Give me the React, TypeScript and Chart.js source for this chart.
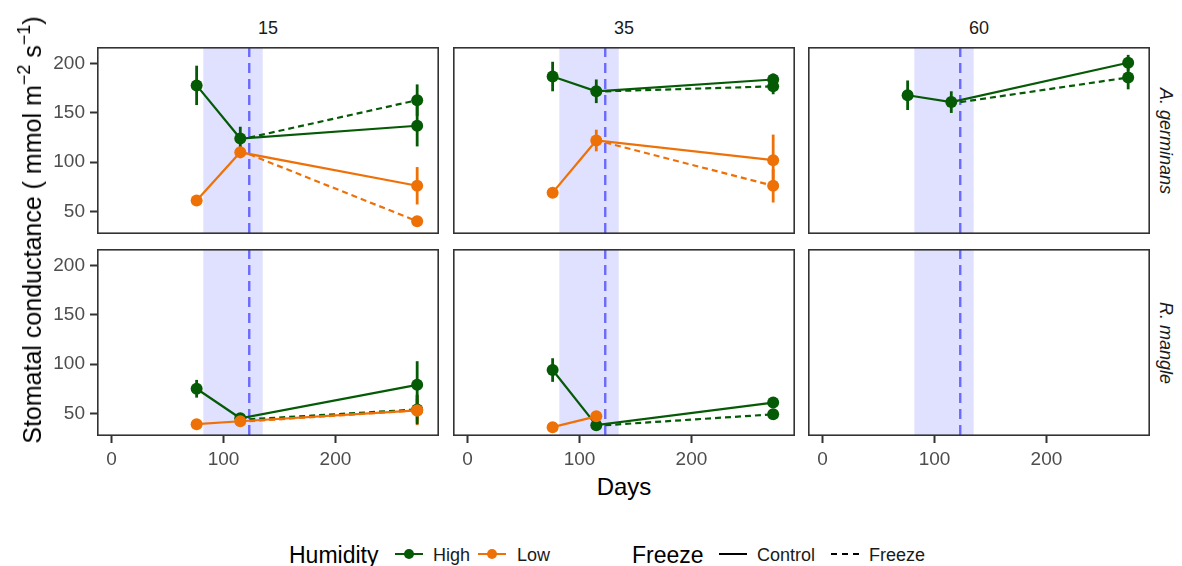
import React, { useEffect, useRef } from "react";
import { Chart, registerables } from "chart.js";

Chart.register(...registerables);

// ---------- data ----------
const DAYS = [76, 115, 273];
const FREEZE_DAYS = [123, 273];
const FREEZE_WINDOW = [82, 135];
const FREEZE_EVENT_DAY = 123;
const X_TICKS = [0, 100, 200];
const Y_TICKS = [50, 100, 150, 200];
const X_RANGE = [-13, 292.5];
const Y_RANGE = [27, 217];
const SALINITY = ["15", "35", "60"];
const SPECIES = ["A. germinans", "R. mangle"];
const HUMIDITY = ["High", "Low"];
const FREEZE = ["Control", "Freeze"];

// A. germinans, 15
const ag15HighCtrl = [178, 124, 137];
const ag15HighCtrlErr = [20, 12, 21];
const ag15HighFrz = [125, 163];
const ag15HighFrzErr = [0, 16];
const ag15LowCtrl = [61, 110, 76];
const ag15LowCtrlErr = [3, 6, 19];
const ag15LowFrz = [108, 40];
const ag15LowFrzErr = [0, 3];
// A. germinans, 35
const ag35HighCtrl = [187, 172, 184];
const ag35HighCtrlErr = [15, 12, 6];
const ag35HighFrz = [172, 177];
const ag35HighFrzErr = [0, 8];
const ag35LowCtrl = [69, 122, 102];
const ag35LowCtrlErr = [3, 11, 26];
const ag35LowFrz = [120, 76];
const ag35LowFrzErr = [0, 17];
// A. germinans, 60
const ag60HighCtrl = [168, 161, 201];
const ag60HighCtrlErr = [15, 11, 8];
const ag60HighFrz = [161, 186];
const ag60HighFrzErr = [0, 12];
// R. mangle, 15
const rm15HighCtrl = [75, 45, 79];
const rm15HighCtrlErr = [9, 4, 24];
const rm15HighFrz = [44, 54];
const rm15HighFrzErr = [0, 15];
const rm15LowCtrl = [39, 42, 53];
const rm15LowCtrlErr = [3, 3, 15];
const rm15LowFrz = [42, 53];
const rm15LowFrzErr = [0, 12];
// R. mangle, 35
const rm35HighCtrl = [94, 38, 61];
const rm35HighCtrlErr = [12, 3, 4];
const rm35HighFrz = [38, 49];
const rm35HighFrzErr = [0, 3];
const rm35LowCtrl = [36, 47, null];
const rm35LowCtrlErr = [2, 3, 0];

// ---------- styles ----------
const FONT = "'Liberation Sans', Arial, Helvetica, sans-serif";
const GREEN = "#055a06";
const ORANGE = "#ee7108";
const SHADE = "#e0e0ff";
const VLINE = "#6a6aff";
const FRAME = "#333333";
const TICK_TEXT = "#4d4d4d";

const PANEL_LEFT = [97, 453, 808];
const PANEL_TOP = [47, 249];
const PANEL_W = 342;
const PANEL_H = 187;
const YAXIS_W = 55;
const XAXIS_H = 35;

type S = { vals: (number | null)[]; errs: number[] } | null;
type PanelData = { highCtrl: S; highFrz: S; lowCtrl: S; lowFrz: S };

const PANELS: PanelData[][] = [
  [
    {
      highCtrl: { vals: ag15HighCtrl, errs: ag15HighCtrlErr },
      highFrz: { vals: ag15HighFrz, errs: ag15HighFrzErr },
      lowCtrl: { vals: ag15LowCtrl, errs: ag15LowCtrlErr },
      lowFrz: { vals: ag15LowFrz, errs: ag15LowFrzErr },
    },
    {
      highCtrl: { vals: ag35HighCtrl, errs: ag35HighCtrlErr },
      highFrz: { vals: ag35HighFrz, errs: ag35HighFrzErr },
      lowCtrl: { vals: ag35LowCtrl, errs: ag35LowCtrlErr },
      lowFrz: { vals: ag35LowFrz, errs: ag35LowFrzErr },
    },
    {
      highCtrl: { vals: ag60HighCtrl, errs: ag60HighCtrlErr },
      highFrz: { vals: ag60HighFrz, errs: ag60HighFrzErr },
      lowCtrl: null,
      lowFrz: null,
    },
  ],
  [
    {
      highCtrl: { vals: rm15HighCtrl, errs: rm15HighCtrlErr },
      highFrz: { vals: rm15HighFrz, errs: rm15HighFrzErr },
      lowCtrl: { vals: rm15LowCtrl, errs: rm15LowCtrlErr },
      lowFrz: { vals: rm15LowFrz, errs: rm15LowFrzErr },
    },
    {
      highCtrl: { vals: rm35HighCtrl, errs: rm35HighCtrlErr },
      highFrz: { vals: rm35HighFrz, errs: rm35HighFrzErr },
      lowCtrl: { vals: rm35LowCtrl, errs: rm35LowCtrlErr },
      lowFrz: null,
    },
    { highCtrl: null, highFrz: null, lowCtrl: null, lowFrz: null },
  ],
];

function makeDataset(s: S, days: number[], color: string, dashed: boolean, label: string) {
  if (!s) return null;
  const pts: { x: number; y: number; e: number }[] = [];
  s.vals.forEach((v, i) => {
    if (v !== null && v !== undefined) pts.push({ x: days[i], y: v, e: s.errs[i] || 0 });
  });
  return {
    label,
    data: pts.map((p) => ({ x: p.x, y: p.y })),
    errs: pts.map((p) => p.e),
    borderColor: color,
    backgroundColor: color,
    borderWidth: 2.2,
    borderDash: dashed ? [6, 4] : [],
    pointRadius: pts.map((p) => (dashed && p.x === FREEZE_EVENT_DAY ? 0 : 6)),
    pointHoverRadius: 0,
    pointBorderWidth: 0,
    pointBackgroundColor: color,
    showLine: true,
    tension: 0,
    fill: false,
  };
}

const decorPlugin = {
  id: "panelDecor",
  beforeDatasetsDraw(chart: any) {
    const { ctx, chartArea, scales } = chart;
    const xs = scales.x;
    const ys = scales.y;
    ctx.save();
    ctx.beginPath();
    ctx.rect(chartArea.left, chartArea.top, chartArea.width, chartArea.height);
    ctx.clip();
    const x0 = xs.getPixelForValue(FREEZE_WINDOW[0]);
    const x1 = xs.getPixelForValue(FREEZE_WINDOW[1]);
    ctx.fillStyle = SHADE;
    ctx.fillRect(x0, chartArea.top, x1 - x0, chartArea.height);
    const xv = xs.getPixelForValue(FREEZE_EVENT_DAY);
    ctx.strokeStyle = VLINE;
    ctx.lineWidth = 2.4;
    ctx.setLineDash([10, 6]);
    ctx.beginPath();
    ctx.moveTo(xv, chartArea.top);
    ctx.lineTo(xv, chartArea.bottom);
    ctx.stroke();
    ctx.setLineDash([]);
    // error bars
    chart.data.datasets.forEach((ds: any) => {
      ctx.strokeStyle = ds.borderColor;
      ctx.lineWidth = 2.8;
      ds.data.forEach((p: any, i: number) => {
        const e = ds.errs[i];
        if (!e) return;
        const px = xs.getPixelForValue(p.x);
        ctx.beginPath();
        ctx.moveTo(px, ys.getPixelForValue(p.y - e));
        ctx.lineTo(px, ys.getPixelForValue(p.y + e));
        ctx.stroke();
      });
    });
    ctx.restore();
  },
  afterDraw(chart: any) {
    const { ctx, chartArea } = chart;
    ctx.save();
    ctx.strokeStyle = FRAME;
    ctx.lineWidth = 1.6;
    ctx.strokeRect(chartArea.left + 0.8, chartArea.top + 0.8, chartArea.width - 1.6, chartArea.height - 1.6);
    ctx.restore();
  },
};

function Panel({ row, col }: { row: number; col: number }) {
  const ref = useRef<HTMLCanvasElement | null>(null);
  const showY = col === 0;
  const showX = row === 1;
  const w = PANEL_W + (showY ? YAXIS_W : 0);
  const h = PANEL_H + (showX ? XAXIS_H : 0);
  const left = PANEL_LEFT[col] - (showY ? YAXIS_W : 0);
  const top = PANEL_TOP[row];

  useEffect(() => {
    if (!ref.current) return;
    const pd = PANELS[row][col];
    const datasets = [
      makeDataset(pd.lowCtrl, DAYS, ORANGE, false, `${HUMIDITY[1]} ${FREEZE[0]}`),
      makeDataset(pd.lowFrz, FREEZE_DAYS, ORANGE, true, `${HUMIDITY[1]} ${FREEZE[1]}`),
      makeDataset(pd.highCtrl, DAYS, GREEN, false, `${HUMIDITY[0]} ${FREEZE[0]}`),
      makeDataset(pd.highFrz, FREEZE_DAYS, GREEN, true, `${HUMIDITY[0]} ${FREEZE[1]}`),
    ].filter(Boolean) as any[];

    const tickFont = { family: FONT, size: 19 };
    const zeroPad = (s: any) => {
      s.paddingTop = 0;
      s.paddingBottom = 0;
      s.paddingLeft = 0;
      s.paddingRight = 0;
    };
    const chart = new Chart(ref.current, {
      type: "line",
      data: { datasets },
      plugins: [decorPlugin],
      options: {
        animation: false,
        responsive: false,
        maintainAspectRatio: false,
        events: [],
        layout: { padding: 0, autoPadding: false },
        plugins: { legend: { display: false }, tooltip: { enabled: false } },
        scales: {
          x: {
            type: "linear",
            display: showX,
            min: X_RANGE[0],
            max: X_RANGE[1],
            afterBuildTicks: (s: any) => {
              s.ticks = X_TICKS.map((v) => ({ value: v }));
            },
            afterFit: (s: any) => {
              if (showX) s.height = XAXIS_H;
              zeroPad(s);
            },
            border: { display: false },
            grid: {
              drawOnChartArea: false,
              drawTicks: true,
              tickLength: 7,
              tickWidth: 2,
              tickColor: FRAME,
            },
            ticks: { color: TICK_TEXT, font: tickFont, padding: 5, maxRotation: 0 },
          },
          y: {
            type: "linear",
            display: showY,
            min: Y_RANGE[0],
            max: Y_RANGE[1],
            afterBuildTicks: (s: any) => {
              s.ticks = Y_TICKS.map((v) => ({ value: v }));
            },
            afterFit: (s: any) => {
              if (showY) s.width = YAXIS_W;
              zeroPad(s);
            },
            border: { display: false },
            grid: {
              drawOnChartArea: false,
              drawTicks: true,
              tickLength: 7,
              tickWidth: 2,
              tickColor: FRAME,
            },
            ticks: { color: TICK_TEXT, font: tickFont, padding: 5 },
          },
        },
      } as any,
    });
    return () => chart.destroy();
  }, [row, col]);

  return (
    <div style={{ position: "absolute", left, top, width: w, height: h }}>
      <canvas ref={ref} width={w} height={h} style={{ width: w, height: h, display: "block" }} />
    </div>
  );
}

function LegendKey({ x, color, dot, dashed }: { x: number; color: string; dot: boolean; dashed?: boolean }) {
  return (
    <div style={{ position: "absolute", left: x, top: 554, width: 28, height: 0 }}>
      <div
        style={{
          position: "absolute",
          left: 0,
          top: -1,
          width: 28,
          height: 0,
          borderTop: `2px ${dashed ? "dashed" : "solid"} ${color}`,
        }}
      />
      {dot && (
        <div
          style={{
            position: "absolute",
            left: 9,
            top: -5,
            width: 10,
            height: 10,
            borderRadius: 5,
            background: color,
          }}
        />
      )}
    </div>
  );
}

function Txt({ x, y, size, children, anchor = "left", style = {} }: any) {
  const tx = anchor === "center" ? "-50%" : anchor === "right" ? "-100%" : "0";
  return (
    <div
      style={{
        position: "absolute",
        left: x,
        top: y,
        transform: `translate(${tx}, -50%)`,
        fontSize: size,
        whiteSpace: "nowrap",
        lineHeight: 1,
        ...style,
      }}
    >
      {children}
    </div>
  );
}

export default function App() {
  const cells: any[] = [];
  for (let r = 0; r < 2; r++) for (let c = 0; c < 3; c++) cells.push(<Panel key={`${r}-${c}`} row={r} col={c} />);
  return (
    <div
      style={{
        position: "absolute",
        left: 0,
        top: 0,
        width: 1182,
        height: 566,
        background: "#fff",
        fontFamily: FONT,
        color: "#1a1a1a",
        overflow: "hidden",
      }}
    >
      {cells}
      {SALINITY.map((s, i) => (
        <Txt key={s} x={PANEL_LEFT[i] + PANEL_W / 2} y={28} size={18} anchor="center">
          {s}
        </Txt>
      ))}
      {SPECIES.map((s, i) => (
        <div
          key={s}
          style={{
            position: "absolute",
            left: 1166,
            top: PANEL_TOP[i] + PANEL_H / 2,
            transform: "translate(-50%, -50%) rotate(90deg)",
            fontSize: 18,
            fontStyle: "italic",
            whiteSpace: "nowrap",
            lineHeight: 1,
          }}
        >
          {s}
        </div>
      ))}
      <div
        style={{
          position: "absolute",
          left: 30,
          top: 230,
          transform: "translate(-50%, -50%) rotate(-90deg)",
          fontSize: 25,
          whiteSpace: "nowrap",
          lineHeight: 1,
          color: "#000",
        }}
      >
        Stomatal conductance ( mmol m<sup style={{ fontSize: 18, verticalAlign: 11 }}>−2</sup> s
        <sup style={{ fontSize: 18, verticalAlign: 11 }}>−1</sup>)
      </div>
      <Txt x={624} y={487} size={24} anchor="center" style={{ color: "#000" }}>
        Days
      </Txt>
      <Txt x={289} y={555} size={23} style={{ color: "#000" }}>
        {"Humidity"}
      </Txt>
      <LegendKey x={395} color={GREEN} dot />
      <Txt x={433} y={555} size={18}>
        {HUMIDITY[0]}
      </Txt>
      <LegendKey x={478} color={ORANGE} dot />
      <Txt x={517} y={555} size={18}>
        {HUMIDITY[1]}
      </Txt>
      <Txt x={632} y={555} size={23} style={{ color: "#000" }}>
        {"Freeze"}
      </Txt>
      <LegendKey x={719} color="#000" dot={false} />
      <Txt x={757} y={555} size={18}>
        {FREEZE[0]}
      </Txt>
      <LegendKey x={831} color="#000" dot={false} dashed />
      <Txt x={869} y={555} size={18}>
        {FREEZE[1]}
      </Txt>
    </div>
  );
}
